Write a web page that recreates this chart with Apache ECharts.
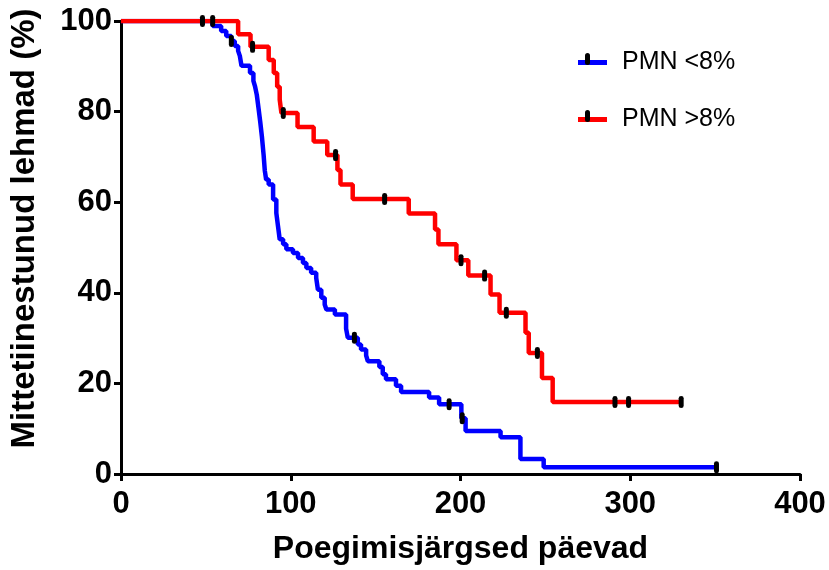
<!DOCTYPE html>
<html>
<head>
<meta charset="utf-8">
<script src="https://cdn.jsdelivr.net/npm/echarts@6/dist/echarts.min.js"></script>
<style>
html,body{margin:0;padding:0;background:#fff;}
#chart{width:829px;height:570px;}
</style>
</head>
<body>
<div id="chart"></div>
<script>
// Kaplan-Meier step data
var blueName = 'PMN <8%';
var redName = 'PMN >8%';
var blueTimes = [0,54,59,62,65,67,69,70,71,76,78,79,80,81,82,83,84,84.7,85.5,87,89.6,91.5,92.5,93.5,95.5,97.4,101.3,104.3,107.2,109.2,112,115,116,118,120,121,126,132.6,133.6,139.5,141.4,144.4,145.4,152.2,154.2,156.1,162,165,181.5,187.4,200.5,203,223.6,235.3,249,350.8];
var blueSurv = [100,98.9,97.8,96.7,95.6,94.5,93.4,92.3,90.1,88.5,86.8,85.5,83.7,80.8,77.8,74.5,70.5,67,65,63.9,60.6,57.6,54.7,51.8,50.7,49.6,48.8,47.7,46.6,45.5,44.4,43.3,40.7,38.9,37.4,36.3,35.2,32.1,30.1,28.6,27.5,26.2,24.9,23.6,22.0,20.9,19.5,18.1,16.9,15.4,12.3,9.5,8.1,3.3,1.5,1.5];
var redTimes = [0,69,76.3,87,90,92,93.5,94.5,104,113.5,121.5,127.5,129.3,136.5,169.5,185,187,197.6,204.6,217.7,223,238.3,240.2,248,254.3,330];
var redSurv = [100,97.1,94.3,91.4,88.5,85.5,82.6,79.7,76.6,73.4,70.4,67.1,63.9,60.7,57.5,54.0,50.7,47.2,43.8,39.6,35.6,31.2,26.7,21.2,15.9,15.9];
var blueCensorTimes = [65,137.5,193.3,201,350.8];
var blueCensorSurv = [95.6,30.1,15.4,12.3,1.5];
var redCensorTimes = [48,54,77.5,95.6,126.4,155.3,200.3,214.2,227,245.3,291,299,330];
var redCensorSurv = [100,100,94.3,79.7,70.4,60.7,47.2,43.8,35.6,26.7,15.9,15.9,15.9];
var xTicks = [0,100,200,300,400];
var yTicks = [0,20,40,60,80,100];
var xTitle = 'Poegimisjärgsed päevad';
var yTitle = 'Mittetiinestunud lehmad (%)';

function zip(a,b){ return a.map(function(v,i){ return [v,b[i]]; }); }

var FONT = '"Liberation Sans", Arial, sans-serif';
var chart = echarts.init(document.getElementById('chart'), null, {renderer:'canvas'});
var censorSymbol = 'path://M2,0 A2,2 0 0 1 4,2 L4,9 A2,2 0 0 1 0,9 L0,2 A2,2 0 0 1 2,0 Z';

chart.setOption({
  animation: false,
  backgroundColor: '#fff',
  grid: {left:120, right:29, top:21, bottom:95, containLabel:false},
  legend: {
    orient: 'vertical',
    left: 573, top: 45,
    itemWidth: 29, itemHeight: 5, itemGap: 32,
    icon: 'rect',
    data: [blueName, redName],
    textStyle: {fontFamily: FONT, fontSize: 25, color:'#000', padding:[0,0,0,10]}
  },
  xAxis: {
    type:'value', min:0, max:400, interval:100,
    name: xTitle, nameLocation:'middle', nameGap:59,
    nameTextStyle:{fontFamily:FONT, fontSize:32, fontWeight:'bold', color:'#000'},
    axisLine:{show:true, onZero:false, lineStyle:{color:'#000', width:3}},
    axisTick:{show:true, length:7, lineStyle:{color:'#000', width:3}},
    axisLabel:{fontFamily:FONT, fontSize:31, fontWeight:'bold', color:'#000', margin:15,
      formatter:function(v){ return xTicks.indexOf(v)>=0 ? String(v) : ''; }},
    splitLine:{show:false}
  },
  yAxis: {
    type:'value', min:0, max:100, interval:20,
    name: yTitle, nameLocation:'middle', nameGap:80, nameRotate:90,
    nameTextStyle:{fontFamily:FONT, fontSize:33, fontWeight:'bold', color:'#000', padding:[0,0,0,38]},
    axisLine:{show:true, onZero:false, lineStyle:{color:'#000', width:3}},
    axisTick:{show:true, length:7, lineStyle:{color:'#000', width:3}},
    axisLabel:{fontFamily:FONT, fontSize:31, fontWeight:'bold', color:'#000', margin:9,
      formatter:function(v){ return yTicks.indexOf(v)>=0 ? String(v) : ''; }},
    splitLine:{show:false}
  },
  series: [
    {name: blueName, type:'line', step:'end', data: zip(blueTimes, blueSurv), showSymbol:false, symbol:'none',
      lineStyle:{color:'#0000FF', width:4.5}, itemStyle:{color:'#0000FF'}, z:2},
    {name: redName, type:'line', step:'end', data: zip(redTimes, redSurv), showSymbol:false, symbol:'none',
      lineStyle:{color:'#FF0000', width:4.5}, itemStyle:{color:'#FF0000'}, z:3},
    {name:'blueCensor', type:'scatter', data: zip(blueCensorTimes, blueCensorSurv), symbol: censorSymbol,
      symbolSize:[5,12], itemStyle:{color:'#000', opacity:1}, z:5},
    {name:'redCensor', type:'scatter', data: zip(redCensorTimes, redCensorSurv), symbol: censorSymbol,
      symbolSize:[5,12], itemStyle:{color:'#000', opacity:1}, z:5}
  ],
  graphic: [
    {type:'rect', left:585, top:53, shape:{width:5, height:12, r:2.5}, style:{fill:'#000'}, z:100},
    {type:'rect', left:585, top:110, shape:{width:5, height:12, r:2.5}, style:{fill:'#000'}, z:100}
  ]
});
</script>
</body>
</html>
